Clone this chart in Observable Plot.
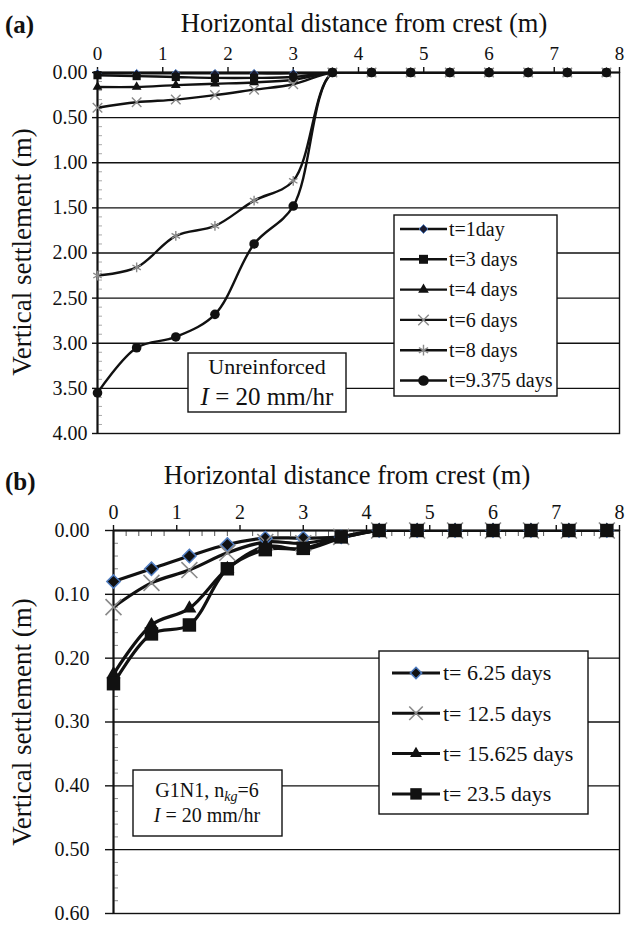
<!DOCTYPE html>
<html><head><meta charset="utf-8">
<script src="https://cdn.jsdelivr.net/npm/d3@7"></script>
<script src="https://cdn.jsdelivr.net/npm/@observablehq/plot@0.6"></script>
<style>
body{margin:0;background:#fff;}
#wrap{position:relative;width:627px;height:925px;overflow:hidden;font-family:"Liberation Serif",serif;color:#111;}
#wrap svg{position:absolute;left:0;font-family:"Liberation Serif",serif !important;}
#wrap svg text{font-family:"Liberation Serif",serif;}
</style></head><body><div id="wrap"></div>
<script>
// ---------- shared ----------
const xPos = [0, 0.6, 1.2, 1.8, 2.4, 3.0, 3.6, 4.2, 4.8, 5.4, 6.0, 6.6, 7.2, 7.8];
const xTicks = [0, 1, 2, 3, 4, 5, 6, 7, 8];

// ---------- panel (a): unreinforced ----------
const aSeries = ["t=1day", "t=3 days", "t=4 days", "t=6 days", "t=8 days", "t=9.375 days"];
const a_t1    = [0.01, 0.01, 0.01, 0.01, 0.01, 0.01, 0, 0, 0, 0, 0, 0, 0, 0];
const a_t3    = [0.03, 0.04, 0.05, 0.06, 0.06, 0.05, 0, 0, 0, 0, 0, 0, 0, 0];
const a_t4    = [0.16, 0.16, 0.14, 0.125, 0.11, 0.08, 0, 0, 0, 0, 0, 0, 0, 0];
const a_t6    = [0.39, 0.33, 0.30, 0.25, 0.19, 0.13, 0, 0, 0, 0, 0, 0, 0, 0];
const a_t8    = [2.25, 2.16, 1.81, 1.70, 1.42, 1.20, 0, 0, 0, 0, 0, 0, 0, 0];
const a_t9375 = [3.55, 3.05, 2.93, 2.68, 1.90, 1.48, 0, 0, 0, 0, 0, 0, 0, 0];
const aValues = [a_t1, a_t3, a_t4, a_t6, a_t8, a_t9375];
const aYMajor = [0, 0.5, 1, 1.5, 2, 2.5, 3, 3.5, 4];
const aGrid = [0.5, 1, 1.5, 2, 2.5, 3, 3.5];

// ---------- panel (b): G1N1 ----------
const bSeries = ["t= 6.25 days", "t= 12.5 days", "t= 15.625 days", "t= 23.5 days"];
const b_t625   = [0.080, 0.060, 0.040, 0.022, 0.012, 0.012, 0.010, 0, 0, 0, 0, 0, 0, 0];
const b_t125   = [0.120, 0.082, 0.062, 0.035, 0.018, 0.020, 0.010, 0, 0, 0, 0, 0, 0, 0];
const b_t15625 = [0.225, 0.148, 0.122, 0.060, 0.025, 0.030, 0.012, 0, 0, 0, 0, 0, 0, 0];
const b_t235   = [0.240, 0.162, 0.148, 0.060, 0.030, 0.028, 0.010, 0, 0, 0, 0, 0, 0, 0];
const bValues = [b_t625, b_t125, b_t15625, b_t235];
const bYMajor = [0, 0.1, 0.2, 0.3, 0.4, 0.5, 0.6];
const bGrid = [0.1, 0.2, 0.3, 0.4, 0.5];

// ---------- styles ----------
const FONT = "Liberation Serif";
const BLUE = "#4f7cc0", GREY = "#8a8a8a", INK = "#111";
const aStyles = [
  {symbol: "diamond2", r: 3.6, fill: "#1a1a2e", stroke: BLUE, sw: 1},
  {symbol: "square", r: 4.6, fill: INK, stroke: "none", sw: 0},
  {symbol: "triangle", r: 3.6, fill: INK, stroke: "none", sw: 0},
  {symbol: "times", r: 4.4, fill: "none", stroke: GREY, sw: 1.4},
  {symbol: "asterisk", r: 4.6, fill: "none", stroke: GREY, sw: 1.4},
  {symbol: "circle", r: 4.8, fill: INK, stroke: "none", sw: 0}
];
const bStyles = [
  {symbol: "diamond2", r: 6, fill: INK, stroke: BLUE, sw: 1.5},
  {symbol: "times", r: 7.3, fill: "none", stroke: GREY, sw: 1.6},
  {symbol: "triangle", r: 5.2, fill: INK, stroke: "none", sw: 0},
  {symbol: "square", r: 7.6, fill: INK, stroke: "none", sw: 0}
];

function table(series, values) {
  return series.flatMap((s, i) => xPos.map((x, j) => ({series: s, x, y: values[i][j]})));
}
const aData = table(aSeries, aValues);
const bData = table(bSeries, bValues);

function dotMarks(data, series, styles) {
  return series.map((s, i) => Plot.dot(data.filter(d => d.series === s), {
    x: "x", y: "y", symbol: styles[i].symbol, r: styles[i].r,
    fill: styles[i].fill, stroke: styles[i].stroke, strokeWidth: styles[i].sw
  }));
}

const aMinorY = d3.range(0.1, 4, 0.1).filter(v => Math.abs(v * 2 - Math.round(v * 2)) > 1e-6);
const bMinorY = d3.range(0.02, 0.6, 0.02).filter(v => Math.abs(v * 10 - Math.round(v * 10)) > 1e-6);
const bMinorX = d3.range(0.2, 8, 0.2).filter(v => Math.abs(v - Math.round(v)) > 1e-6);

const wrap = document.getElementById("wrap");

// ---------- plot (a) ----------
const plotA = Plot.plot({
  width: 627, height: 450,
  marginTop: 72, marginLeft: 97, marginRight: 8, marginBottom: 17,
  style: {fontFamily: FONT, fontSize: "19px", color: INK, background: "transparent"},
  x: {domain: [0, 8]},
  y: {domain: [0, 4], reverse: true},
  marks: [
    Plot.gridY(aGrid, {stroke: INK, strokeOpacity: 1, strokeWidth: 1.4}),
    Plot.frame({stroke: INK, strokeWidth: 1.4}),
    Plot.axisX(xTicks, {anchor: "top", tickSize: 6, tickPadding: 7, fontSize: 19, fontFamily: FONT, label: null, strokeWidth: 1.4}),
    Plot.axisY(aYMajor, {anchor: "left", tickSize: 5, tickPadding: 5, tickFormat: d => d.toFixed(2), fontSize: 20, fontFamily: FONT, label: null, strokeWidth: 1.4}),
    Plot.axisY(aMinorY, {anchor: "left", tickSize: 5, dx: 5, tickFormat: () => "", stroke: "#aaa", label: null}),
    Plot.ruleY([0], {stroke: INK, strokeWidth: 2.2}),
    Plot.ruleX([0], {stroke: INK, strokeWidth: 2}),
    Plot.line(aData, {x: "x", y: "y", z: "series", curve: "catmull-rom", stroke: INK, strokeWidth: 2.4, clip: true}),
    ...dotMarks(aData, aSeries, aStyles)
  ]
});
plotA.style.top = "0px";
wrap.appendChild(plotA);

// ---------- plot (b) ----------
const plotB = Plot.plot({
  width: 627, height: 475,
  marginTop: 80, marginLeft: 113, marginRight: 8, marginBottom: 12,
  style: {fontFamily: FONT, fontSize: "20px", color: INK, background: "transparent"},
  x: {domain: [0, 8]},
  y: {domain: [0, 0.6], reverse: true},
  marks: [
    Plot.gridY(bGrid, {stroke: INK, strokeOpacity: 1, strokeWidth: 1.4}),
    Plot.frame({stroke: INK, strokeWidth: 1.4}),
    Plot.axisX(xTicks, {anchor: "top", tickSize: 6, tickPadding: 6, fontSize: 20, fontFamily: FONT, label: null, strokeWidth: 1.4}),
    Plot.axisX(bMinorX, {anchor: "top", tickSize: 5, dy: 5, tickFormat: () => "", stroke: "#555", label: null}),
    Plot.axisY(bYMajor, {anchor: "left", tickSize: 8, tickPadding: 16, tickFormat: d => d.toFixed(2), fontSize: 20, fontFamily: FONT, label: null, strokeWidth: 1.4}),
    Plot.axisY(bMinorY, {anchor: "left", tickSize: 5, dx: 5, tickFormat: () => "", stroke: "#888", label: null}),
    Plot.ruleY([0], {stroke: INK, strokeWidth: 2.2}),
    Plot.ruleX([0], {stroke: INK, strokeWidth: 2}),
    Plot.line(bData, {x: "x", y: "y", z: "series", curve: "catmull-rom", stroke: INK, strokeWidth: 3.2, clip: true}),
    ...dotMarks(bData, bSeries, bStyles)
  ]
});
plotB.style.top = "450px";
wrap.appendChild(plotB);

// ---------- overlay: titles, legends, text boxes ----------
const ov = d3.select(wrap).append("svg").attr("width", 627).attr("height", 925)
  .style("top", "0px").style("font-family", FONT).style("pointer-events", "none");

function txt(x, y, s, size, opts = {}) {
  return ov.append("text").attr("x", x).attr("y", y).attr("font-size", size)
    .attr("text-anchor", opts.anchor || "start").attr("font-weight", opts.bold ? "bold" : null)
    .attr("fill", INK).text(s);
}
txt(5, 33, "(a)", 25, {bold: true});
txt(5, 490, "(b)", 25, {bold: true});
txt(364, 32, "Horizontal distance from crest (m)", 26.5, {anchor: "middle"});
txt(347, 484, "Horizontal distance from crest (m)", 26.5, {anchor: "middle"});
ov.append("text").attr("transform", "translate(31,252) rotate(-90)").attr("text-anchor", "middle")
  .attr("font-size", 27).attr("fill", INK).text("Vertical settlement (m)");
ov.append("text").attr("transform", "translate(31,722) rotate(-90)").attr("text-anchor", "middle")
  .attr("font-size", 27).attr("fill", INK).text("Vertical settlement (m)");

const symMap = {diamond2: d3.symbolDiamond2, square: d3.symbolSquare, triangle: d3.symbolTriangle,
  times: d3.symbolTimes, asterisk: d3.symbolAsterisk, circle: d3.symbolCircle};

function legend(box, y0, dyRow, lx1, lx2, tx, series, styles, fontSize, lw, scale) {
  ov.append("rect").attr("x", box[0]).attr("y", box[1]).attr("width", box[2] - box[0]).attr("height", box[3] - box[1])
    .attr("fill", "#fff").attr("stroke", INK).attr("stroke-width", 1.4);
  series.forEach((s, i) => {
    const y = y0 + i * dyRow, st = styles[i];
    ov.append("line").attr("x1", lx1).attr("x2", lx2).attr("y1", y).attr("y2", y).attr("stroke", INK).attr("stroke-width", lw);
    const r = st.r * scale;
    ov.append("path").attr("d", d3.symbol(symMap[st.symbol], Math.PI * r * r)())
      .attr("transform", `translate(${(lx1 + lx2) / 2},${y})`)
      .attr("fill", st.fill).attr("stroke", st.stroke).attr("stroke-width", st.sw);
    ov.append("text").attr("x", tx).attr("y", y).attr("dy", "0.33em").attr("font-size", fontSize).attr("fill", INK).text(s);
  });
}
legend([394, 215, 557, 396], 229, 30.3, 400, 447, 449, aSeries, aStyles, 20, 2.4, 1.1);
legend([379, 651, 588, 814], 673, 40.3, 392, 440, 443, bSeries, bStyles, 22, 3, 0.85);

// text box (a)
ov.append("rect").attr("x", 188).attr("y", 353).attr("width", 158).attr("height", 59)
  .attr("fill", "#fff").attr("stroke", INK).attr("stroke-width", 1.4);
txt(267, 374, "Unreinforced", 22, {anchor: "middle"});
const ta = ov.append("text").attr("x", 267).attr("y", 405).attr("font-size", 25).attr("text-anchor", "middle").attr("fill", INK);
ta.append("tspan").attr("font-style", "italic").text("I");
ta.append("tspan").text(" = 20 mm/hr");

// text box (b)
ov.append("rect").attr("x", 133).attr("y", 770).attr("width", 149).attr("height", 66)
  .attr("fill", "#fff").attr("stroke", INK).attr("stroke-width", 1.4);
const tb1 = ov.append("text").attr("x", 207).attr("y", 797).attr("font-size", 20).attr("text-anchor", "middle").attr("fill", INK);
tb1.append("tspan").text("G1N1, n");
tb1.append("tspan").attr("font-style", "italic").attr("font-size", 14).attr("dy", 4).text("kg");
tb1.append("tspan").attr("dy", -4).text("=6");
const tb2 = ov.append("text").attr("x", 207).attr("y", 822).attr("font-size", 20).attr("text-anchor", "middle").attr("fill", INK);
tb2.append("tspan").attr("font-style", "italic").text("I");
tb2.append("tspan").text(" = 20 mm/hr");
</script></body></html>
